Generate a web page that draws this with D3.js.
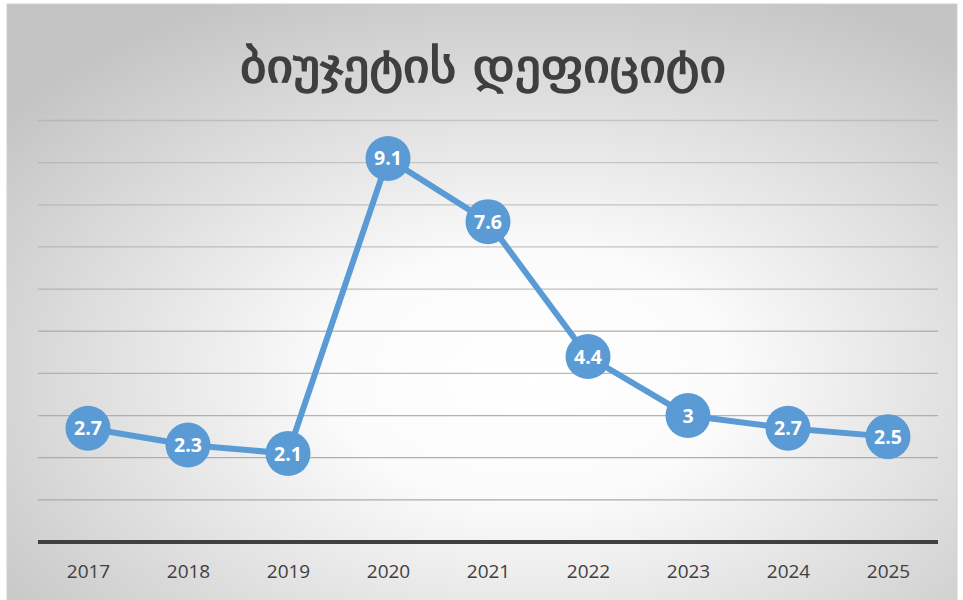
<!DOCTYPE html>
<html>
<head>
<meta charset="utf-8">
<script src="https://cdn.jsdelivr.net/npm/d3@7"></script>
<style>
  body { margin: 0; background: #fff; }
</style>
</head>
<body>
<script>
const years = ["2017", "2018", "2019", "2020", "2021", "2022", "2023", "2024", "2025"];
const deficit = [2.7, 2.3, 2.1, 9.1, 7.6, 4.4, 3, 2.7, 2.5];
const gridTicks = [0, 1, 2, 3, 4, 5, 6, 7, 8, 9, 10];
const title = "ბიუჯეტის დეფიციტი";

const data = years.map((y, i) => ({ year: y, value: deficit[i] }));

const width = 963, height = 600;
const svg = d3.select("body").append("svg")
  .attr("width", width)
  .attr("height", height);

const defs = svg.append("defs");
const grad = defs.append("radialGradient")
  .attr("id", "bg")
  .attr("cx", "55%").attr("cy", "62%")
  .attr("r", "70%");
grad.append("stop").attr("offset", "0%").attr("stop-color", "#ffffff");
grad.append("stop").attr("offset", "30%").attr("stop-color", "#fbfbfb");
grad.append("stop").attr("offset", "100%").attr("stop-color", "#c4c4c4");

svg.append("rect")
  .attr("x", 7).attr("y", 4)
  .attr("width", 950).attr("height", 600)
  .attr("fill", "url(#bg)")
  .attr("stroke", "#d0d0d0");

const x = d3.scalePoint()
  .domain(years)
  .range([38, 938])
  .padding(0.5);

const y = d3.scaleLinear()
  .domain([0, 10])
  .range([542, 120.5]);

// gridlines
svg.append("g")
  .selectAll("line")
  .data(gridTicks.slice(1))
  .enter()
  .append("line")
  .attr("x1", 38).attr("x2", 938)
  .attr("y1", d => y(d)).attr("y2", d => y(d))
  .attr("stroke", "#a6a6a6")
  .attr("stroke-opacity", d => 1 - d * 0.05)
  .attr("stroke-width", 1.3);

// x axis
const xAxis = svg.append("g")
  .attr("transform", `translate(0,${y(0)})`)
  .call(d3.axisBottom(x).tickSize(0).tickPadding(23));
xAxis.select(".domain")
  .attr("d", "M38,0H938")
  .attr("stroke", "#404040")
  .attr("stroke-width", 4);
xAxis.selectAll("text")
  .attr("fill", "#404040")
  .style("font-family", "'Open Sans', sans-serif")
  .style("font-size", "19px");

// title
svg.append("text")
  .attr("x", 483)
  .attr("y", 82)
  .attr("text-anchor", "middle")
  .attr("textLength", 486)
  .attr("lengthAdjust", "spacingAndGlyphs")
  .attr("fill", "#3f3f3f")
  .attr("stroke", "#3f3f3f")
  .attr("stroke-width", 1.4)
  .style("font-family", "'DejaVu Sans', sans-serif")
  .style("font-size", "46px")
  .text(title);

// line
const line = d3.line()
  .x(d => x(d.year))
  .y(d => y(d.value));

svg.append("path")
  .datum(data)
  .attr("d", line)
  .attr("fill", "none")
  .attr("stroke", "#5b9bd5")
  .attr("stroke-width", 6)
  .attr("stroke-linejoin", "round");

// markers
svg.append("g")
  .selectAll("circle")
  .data(data)
  .enter()
  .append("circle")
  .attr("cx", d => x(d.year))
  .attr("cy", d => y(d.value))
  .attr("r", 22.5)
  .attr("fill", "#5b9bd5");

svg.append("g")
  .selectAll("text")
  .data(data)
  .enter()
  .append("text")
  .attr("x", d => x(d.year))
  .attr("y", d => y(d.value))
  .attr("dy", "0.36em")
  .attr("text-anchor", "middle")
  .attr("fill", "#ffffff")
  .style("font-family", "'Open Sans', sans-serif")
  .style("font-weight", "bold")
  .style("font-size", "19.5px")
  .text(d => d.value);
</script>
</body>
</html>
